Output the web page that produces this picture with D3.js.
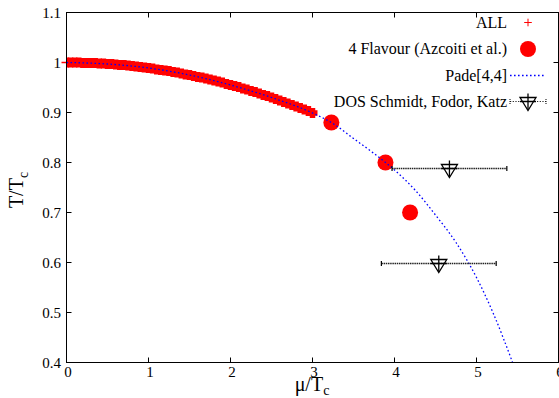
<!DOCTYPE html>
<html>
<head>
<meta charset="utf-8">
<script src="https://cdn.jsdelivr.net/npm/d3@7"></script>
<style>
  body { margin: 0; background: white; }
</style>
</head>
<body>
<div id="chart"></div>
<script>
// ---- data ----
// "ALL" lattice points (dense red crosses)
const allMu = [0, 0.05, 0.1, 0.15, 0.2, 0.25, 0.3, 0.35, 0.4, 0.45, 0.5, 0.55, 0.6, 0.65, 0.7, 0.75,
    0.8, 0.85, 0.9, 0.95, 1.0, 1.05, 1.1, 1.15, 1.2, 1.25, 1.3, 1.35, 1.4, 1.45, 1.5, 1.55, 1.6,
    1.65, 1.7, 1.75, 1.8, 1.85, 1.9, 1.95, 2.0, 2.05, 2.1, 2.15, 2.2, 2.25, 2.3, 2.35, 2.4, 2.45,
    2.5, 2.55, 2.6, 2.65, 2.7, 2.75, 2.8, 2.85, 2.9, 2.95, 3.0];
const allT = [1.000, 1.000, 1.000, 1.000, 0.999, 0.999, 0.999, 0.999, 0.998, 0.998, 0.997, 0.997,
    0.996, 0.995, 0.995, 0.994, 0.993, 0.992, 0.991, 0.990, 0.989, 0.988, 0.986, 0.985, 0.984,
    0.983, 0.981, 0.980, 0.978, 0.976, 0.975, 0.973, 0.971, 0.970, 0.968, 0.966, 0.964, 0.962,
    0.960, 0.957, 0.955, 0.953, 0.951, 0.948, 0.946, 0.943, 0.941, 0.938, 0.935, 0.933, 0.930,
    0.927, 0.924, 0.921, 0.918, 0.915, 0.912, 0.909, 0.906, 0.903, 0.899];

// 4 flavour (Azcoiti et al.)
const flavMu = [3.23, 3.89, 4.19];
const flavT = [0.88, 0.80, 0.70];

// Pade[4,4]
const padeMu = [0, 0.5, 1.0, 1.5, 2.0, 2.5, 3.0, 3.25, 3.5, 3.75, 4.0, 4.25, 4.5, 4.75, 5.0, 5.2, 5.44];
const padeT = [1.0, 0.997, 0.989, 0.975, 0.955, 0.930, 0.899, 0.878, 0.848, 0.818, 0.785, 0.745,
    0.695, 0.640, 0.570, 0.500, 0.400];

// DOS Schmidt, Fodor, Katz
const dosMu = [4.67, 4.54];
const dosT = [0.788, 0.598];
const dosErr = [0.70, 0.70];

const xTicks = [0, 1, 2, 3, 4, 5, 6];
const yTicks = [0.4, 0.5, 0.6, 0.7, 0.8, 0.9, 1.0, 1.1];

const legendLabels = ["ALL", "4 Flavour (Azcoiti et al.)", "Pade[4,4]", "DOS Schmidt, Fodor, Katz"];

// ---- layout ----
const W = 559, H = 398;
const svg = d3.select("#chart").append("svg")
    .attr("width", W).attr("height", H)
    .attr("font-family", "'Liberation Serif', 'DejaVu Serif', serif");

const x = d3.scaleLinear().domain([0, 6]).range([66.5, 558.5]);
const y = d3.scaleLinear().domain([0.4, 1.1]).range([362.5, 12.5]);

svg.append("clipPath").attr("id", "plotclip")
    .append("rect")
    .attr("x", x(0)).attr("y", y(1.1))
    .attr("width", x(6) - x(0)).attr("height", y(0.4) - y(1.1));

// tick marks (inward, on all four sides)
const tickLen = 5;
const ticks = svg.append("g").attr("stroke", "#000").attr("stroke-width", 1);
xTicks.slice(1, -1).forEach(t => {
    ticks.append("line").attr("x1", x(t)).attr("x2", x(t)).attr("y1", y(0.4)).attr("y2", y(0.4) - tickLen);
    ticks.append("line").attr("x1", x(t)).attr("x2", x(t)).attr("y1", y(1.1)).attr("y2", y(1.1) + tickLen);
});
yTicks.slice(1, -1).forEach(t => {
    ticks.append("line").attr("y1", y(t)).attr("y2", y(t)).attr("x1", x(0)).attr("x2", x(0) + tickLen);
    ticks.append("line").attr("y1", y(t)).attr("y2", y(t)).attr("x1", x(6)).attr("x2", x(6) - tickLen);
});

// tick labels
svg.append("g").selectAll("text").data(xTicks).enter().append("text")
    .attr("x", d => x(d) + 1.5).attr("y", 377)
    .attr("text-anchor", "middle").attr("font-size", 15)
    .text(d => d);
svg.append("g").selectAll("text").data(yTicks).enter().append("text")
    .attr("x", 61).attr("y", d => y(d) + 5)
    .attr("text-anchor", "end").attr("font-size", 15)
    .text(d => d3.format("")(+d.toFixed(1)));

// axis titles
const ylab = svg.append("text")
    .attr("transform", "translate(23,190) rotate(-90)")
    .attr("text-anchor", "middle").attr("font-size", 20);
ylab.append("tspan").text("T/T");
ylab.append("tspan").attr("font-size", 14).attr("dy", 5).text("c");

const xlab = svg.append("text")
    .attr("x", 312).attr("y", 391)
    .attr("text-anchor", "middle").attr("font-size", 20);
xlab.append("tspan").text("\u03bc/T");
xlab.append("tspan").attr("font-size", 14).attr("dy", 4).text("c");

// ---- marks ----
const plot = svg.append("g").attr("clip-path", "url(#plotclip)");

// ALL: dense red crosses
const allData = allMu.map((m, i) => ({mu: m, t: allT[i]}));
const cross = s => `M${-s},0H${s}M0,${-s}V${s}`;
plot.append("g").selectAll("path").data(allData).enter().append("path")
    .attr("transform", d => `translate(${x(d.mu)},${y(d.t)})`)
    .attr("d", cross(5))
    .attr("stroke", "red").attr("stroke-width", 5.5).attr("fill", "none");
// the cross at mu=0 pokes out past the axis
svg.append("path")
    .attr("d", `M${x(0) - 5},${y(1.0)}H${x(0)}`)
    .attr("stroke", "red").attr("stroke-width", 1.5);

// 4 flavour dots
plot.append("g").selectAll("circle").data(flavMu).enter().append("circle")
    .attr("cx", d => x(d)).attr("cy", (d, i) => y(flavT[i]))
    .attr("r", 8).attr("fill", "red");

// Pade line
const padeData = padeMu.map((m, i) => ({mu: m, t: padeT[i]}));
const line = d3.line().x(d => x(d.mu)).y(d => y(d.t)).curve(d3.curveMonotoneX);
plot.append("path").datum(padeData)
    .attr("d", line)
    .attr("fill", "none").attr("stroke", "blue")
    .attr("stroke-width", 1.3).attr("stroke-dasharray", "1.6,2.4");

// DOS points with x error bars
const tri = "M-8,-4L8,-4L0,9Z";
const plus = "M-8,0H8M0,-8V8";
function dosMarker(g) {
    g.append("path").attr("d", tri).attr("fill", "none").attr("stroke", "#000").attr("stroke-width", 1.3);
    g.append("path").attr("d", plus).attr("fill", "none").attr("stroke", "#000").attr("stroke-width", 1.3);
}
dosMu.forEach((m, i) => {
    const g = plot.append("g");
    const yy = y(dosT[i]);
    g.append("line")
        .attr("x1", x(m - dosErr[i])).attr("x2", x(m + dosErr[i]))
        .attr("y1", yy).attr("y2", yy)
        .attr("stroke", "#222").attr("stroke-width", 1.6).attr("stroke-dasharray", "1.5,0.7");
    [m - dosErr[i], m + dosErr[i]].forEach(e => {
        g.append("line").attr("x1", x(e)).attr("x2", x(e))
            .attr("y1", yy - 2.5).attr("y2", yy + 2.5)
            .attr("stroke", "#000").attr("stroke-width", 1.2);
    });
    dosMarker(g.append("g").attr("transform", `translate(${x(m)},${yy})`));
});

// frame
svg.append("rect")
    .attr("x", x(0)).attr("y", y(1.1))
    .attr("width", x(6) - x(0)).attr("height", y(0.4) - y(1.1))
    .attr("fill", "none").attr("stroke", "#000").attr("stroke-width", 1);

// ---- legend ----
const legRows = [22.5, 49, 75.5, 101.5];
const textX = 507, sx1 = 510, sx2 = 546, sc = 528;
const legend = svg.append("g").attr("class", "legend");
legendLabels.forEach((lab, i) => {
    legend.append("text")
        .attr("x", textX).attr("y", legRows[i] + 5)
        .attr("text-anchor", "end").attr("font-size", 16)
        .text(lab);
});
legend.append("path")
    .attr("transform", `translate(${sc},${legRows[0]})`)
    .attr("d", cross(3.8)).attr("stroke", "red").attr("stroke-width", 1).attr("fill", "none");
legend.append("circle").attr("cx", sc).attr("cy", legRows[1]).attr("r", 8).attr("fill", "red");
legend.append("line")
    .attr("x1", sx1).attr("x2", sx2).attr("y1", legRows[2]).attr("y2", legRows[2])
    .attr("stroke", "blue").attr("stroke-width", 1.3).attr("stroke-dasharray", "1.6,2.4");
legend.append("line")
    .attr("x1", sx1).attr("x2", sx2).attr("y1", legRows[3]).attr("y2", legRows[3])
    .attr("stroke", "#222").attr("stroke-width", 1.2).attr("stroke-dasharray", "1.2,1.5");
[sx1, sx2].forEach(e => {
    legend.append("line").attr("x1", e).attr("x2", e)
        .attr("y1", legRows[3] - 2.5).attr("y2", legRows[3] + 2.5)
        .attr("stroke", "#000").attr("stroke-width", 1).attr("stroke-dasharray", "1,1");
});
dosMarker(legend.append("g").attr("transform", `translate(${sc},${legRows[3]})`));
</script>
</body>
</html>
